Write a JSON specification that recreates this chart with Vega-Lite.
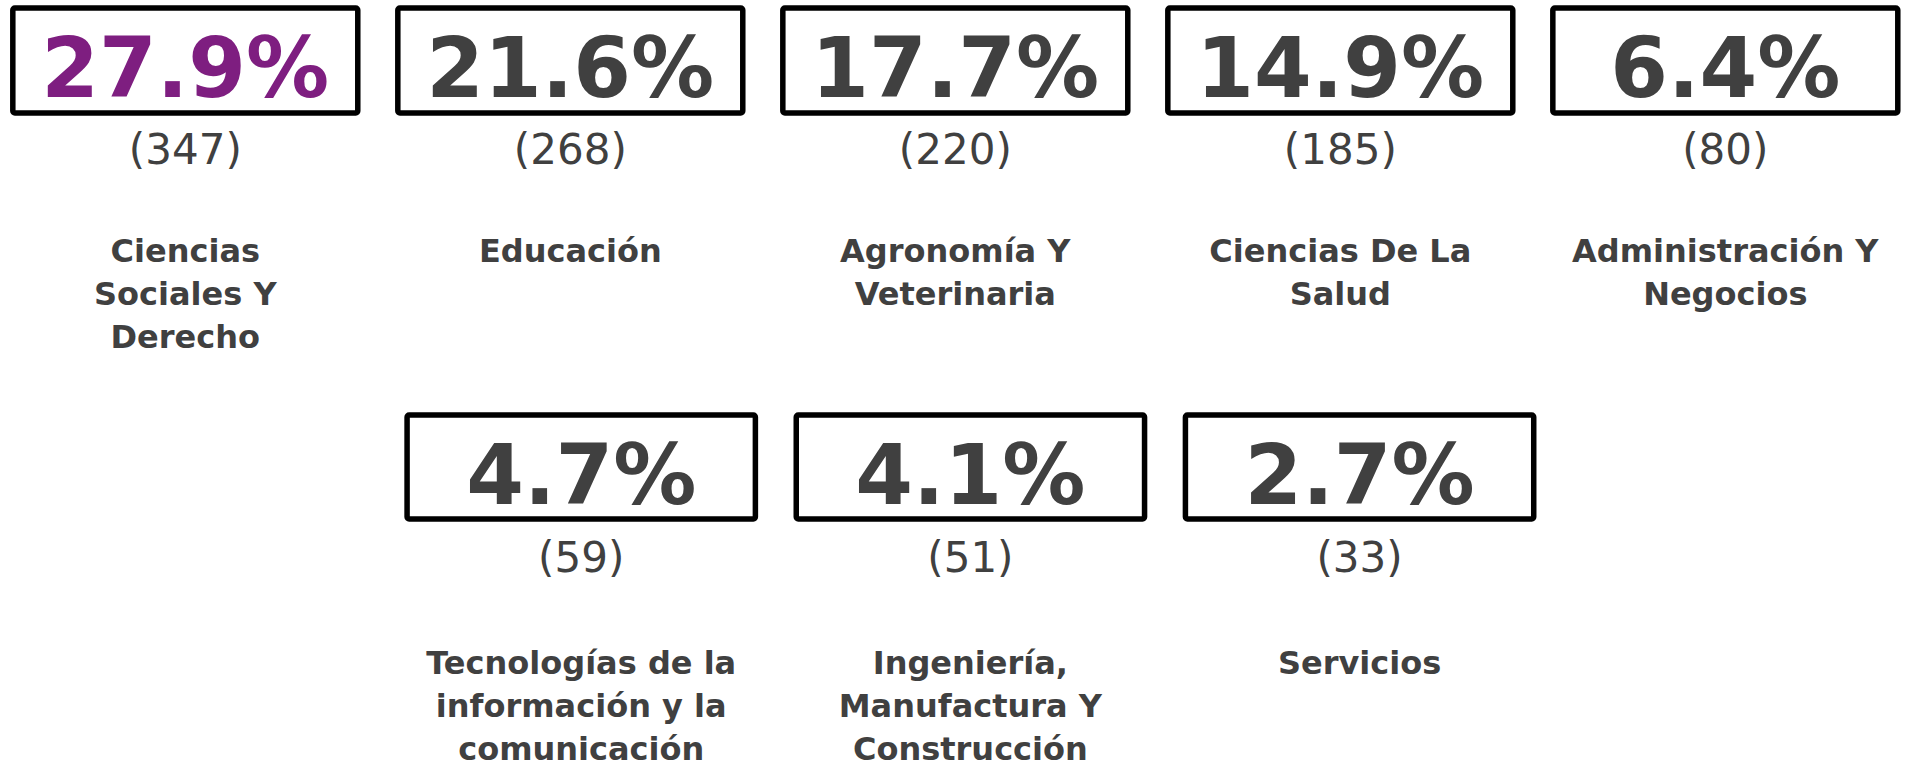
{
  "$schema": "https://vega.github.io/schema/vega-lite/v6.json",
  "padding": 0,
  "background": "white",
  "spacing": 0,
  "config": {"view": {"stroke": null}},
  "data": {
    "values": [
      {"categoria": "Ciencias\nSociales Y\nDerecho", "porcentaje": 0.279, "n": 347},
      {"categoria": "Educación", "porcentaje": 0.216, "n": 268},
      {"categoria": "Agronomía Y\nVeterinaria", "porcentaje": 0.177, "n": 220},
      {"categoria": "Ciencias De La\nSalud", "porcentaje": 0.149, "n": 185},
      {"categoria": "Administración Y\nNegocios", "porcentaje": 0.064, "n": 80},
      {"categoria": "Tecnologías de la\ninformación y la\ncomunicación", "porcentaje": 0.047, "n": 59},
      {"categoria": "Ingeniería,\nManufactura Y\nConstrucción", "porcentaje": 0.041, "n": 51},
      {"categoria": "Servicios", "porcentaje": 0.027, "n": 33}
    ]
  },
  "vconcat": [
    {
      "width": 1905,
      "height": 407,
      "transform": [
        {"window": [{"op": "row_number", "as": "orden"}], "sort": [{"field": "porcentaje", "order": "descending"}]},
        {"filter": "datum.orden <= 5"},
        {"calculate": "'(' + datum.n + ')'", "as": "n_txt"}
      ],
      "encoding": {
        "x": {
          "field": "categoria", "type": "nominal",
          "sort": {"field": "porcentaje", "op": "max", "order": "descending"},
          "axis": null,
          "scale": {"paddingInner": 0.104, "paddingOuter": 0.026, "align": 0.64}
        }
      },
      "layer": [
        {"mark": {"type": "rect", "y": 8, "y2": 113, "fill": "white", "stroke": "black", "strokeWidth": 5.5, "cornerRadius": 2}},
        {
          "mark": {"type": "text", "y": 97, "baseline": "alphabetic", "align": "center", "font": "DejaVu Sans", "fontWeight": "bold", "fontSize": 83},
          "encoding": {
            "text": {"field": "porcentaje", "type": "quantitative", "format": ".1%"},
            "color": {"condition": {"test": "datum.orden == 1", "value": "#7E1E80"}, "value": "#404040"}
          }
        },
        {
          "mark": {"type": "text", "y": 164, "baseline": "alphabetic", "align": "center", "font": "DejaVu Sans", "fontSize": 42, "color": "#404040"},
          "encoding": {"text": {"field": "n_txt", "type": "nominal"}}
        },
        {
          "mark": {"type": "text", "y": 262, "baseline": "alphabetic", "align": "center", "font": "DejaVu Sans", "fontWeight": "bold", "fontSize": 32, "lineBreak": "\n", "lineHeight": 43, "color": "#404040"},
          "encoding": {"text": {"field": "categoria", "type": "nominal"}}
        }
      ]
    },
    {
      "width": 1905,
      "height": 360,
      "transform": [
        {"window": [{"op": "row_number", "as": "orden"}], "sort": [{"field": "porcentaje", "order": "descending"}]},
        {"filter": "datum.orden > 5"},
        {"calculate": "'(' + datum.n + ')'", "as": "n_txt"}
      ],
      "encoding": {
        "x": {
          "field": "categoria", "type": "nominal",
          "sort": {"field": "porcentaje", "op": "max", "order": "descending"},
          "axis": null,
          "scale": {"paddingInner": 0.105, "paddingOuter": 1.06, "align": 0.523}
        }
      },
      "layer": [
        {"mark": {"type": "rect", "y": 8, "y2": 112, "fill": "white", "stroke": "black", "strokeWidth": 5.5, "cornerRadius": 2}},
        {
          "mark": {"type": "text", "y": 97, "baseline": "alphabetic", "align": "center", "font": "DejaVu Sans", "fontWeight": "bold", "fontSize": 83, "color": "#404040"},
          "encoding": {"text": {"field": "porcentaje", "type": "quantitative", "format": ".1%"}}
        },
        {
          "mark": {"type": "text", "y": 165, "baseline": "alphabetic", "align": "center", "font": "DejaVu Sans", "fontSize": 42, "color": "#404040"},
          "encoding": {"text": {"field": "n_txt", "type": "nominal"}}
        },
        {
          "mark": {"type": "text", "y": 267, "baseline": "alphabetic", "align": "center", "font": "DejaVu Sans", "fontWeight": "bold", "fontSize": 32, "lineBreak": "\n", "lineHeight": 43, "color": "#404040"},
          "encoding": {"text": {"field": "categoria", "type": "nominal"}}
        }
      ]
    }
  ]
}
